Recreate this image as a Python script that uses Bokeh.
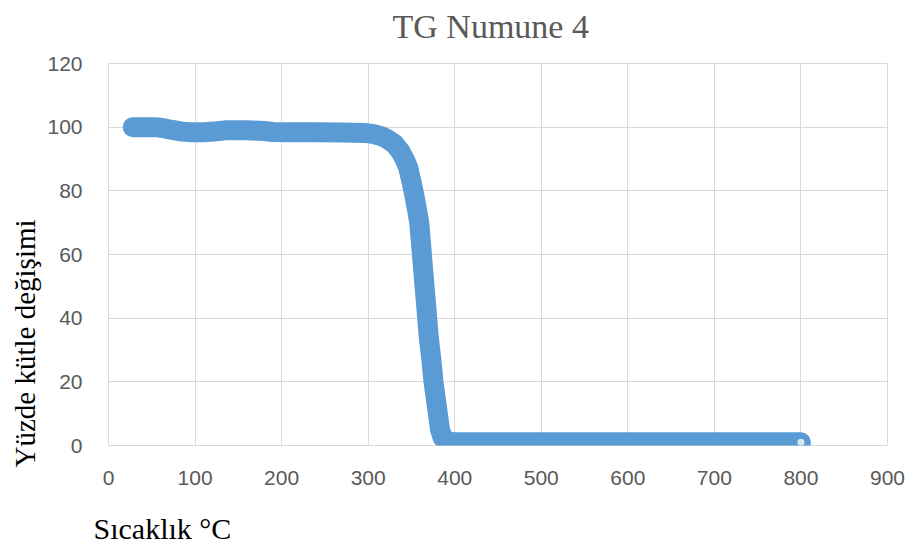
from bokeh.plotting import figure
from bokeh.models import Range1d, FixedTicker, Title
from bokeh.embed import file_html
from bokeh.resources import INLINE

# Data
temperature = [28, 40, 55, 65, 72, 85, 95, 110, 125, 135, 160, 180, 190, 210, 240, 270,
               295, 305, 315, 322, 330, 337, 342, 346, 350, 353, 356.5, 359, 361.5,
               364.5, 367, 370, 373, 375.5, 378, 380.5, 383, 386, 390, 395, 400,
               450, 500, 600, 700, 800]
mass_percent = [100, 100, 100, 99.6, 99.2, 98.6, 98.4, 98.4, 98.7, 99.0, 99.0, 98.8, 98.5,
                98.4, 98.4, 98.3, 98.2, 97.9, 97.2, 96.3, 94.8, 92.5, 90, 87.5, 83, 79,
                74, 70, 62, 52, 44, 34, 27, 20, 15, 10, 5, 2.5, 1.5, 1.2, 1.0,
                1.0, 1.0, 1.0, 1.0, 1.0]
x_ticks = [0, 100, 200, 300, 400, 500, 600, 700, 800, 900]
y_ticks = [0, 20, 40, 60, 80, 100, 120]

title_text = "TG Numune 4"
x_label = "Sıcaklık °C"
y_label = "Yüzde kütle değişimi"

BLUE = "#5B9BD5"
GRID = "#D9D9D9"
GREY = "#595959"

p = figure(width=912, height=545, output_backend="svg", toolbar_location=None,
           title=None,
           x_range=Range1d(0, 900), y_range=Range1d(0, 120),
           min_border_left=108, min_border_right=25, min_border_top=63,
           min_border_bottom=100)

p.outline_line_color = GRID
p.background_fill_color = "white"
p.border_fill_color = "white"

for ax in (p.xaxis, p.yaxis):
    ax.axis_line_color = None
    ax.major_tick_line_color = None
    ax.minor_tick_line_color = None
    ax.major_label_text_font = "Liberation Sans"
    ax.major_label_text_font_size = "21px"
    ax.major_label_text_color = GREY
p.xaxis.ticker = FixedTicker(ticks=x_ticks)
p.yaxis.ticker = FixedTicker(ticks=y_ticks)
p.xaxis.major_label_standoff = 19
p.yaxis.major_label_standoff = 20

p.xgrid.ticker = FixedTicker(ticks=x_ticks)
p.ygrid.ticker = FixedTicker(ticks=y_ticks)
p.xgrid.grid_line_color = GRID
p.ygrid.grid_line_color = GRID

p.line(temperature, mass_percent, line_color=BLUE, line_width=20,
       line_cap="round", line_join="round")
p.scatter([temperature[-1]], [mass_percent[-1]], size=7, fill_color="white",
          fill_alpha=0.75, line_color=None)

# chart title: a thin blank spacer next to the frame, then the title above it
p.add_layout(Title(text=" ", standoff=0, text_font_size="15px"), "above")
p.add_layout(Title(text=title_text, align="left", offset=284, standoff=0,
                   text_font="Liberation Serif", text_font_size="34px",
                   text_font_style="normal", text_color=GREY), "above")

# axis titles placed like the reference (bottom-left aligned)
p.add_layout(Title(text=y_label, align="left", offset=-22, standoff=8,
                   text_font="Liberation Serif", text_font_size="29px",
                   text_font_style="normal", text_color="black"), "left")
p.add_layout(Title(text=" ", standoff=0, text_font_size="18px"), "below")
p.add_layout(Title(text=x_label, align="left", offset=-15, standoff=0,
                   text_font="Liberation Serif", text_font_size="30px",
                   text_font_style="normal", text_color="black"), "below")

open("out.html", "w").write(file_html(p, INLINE))
